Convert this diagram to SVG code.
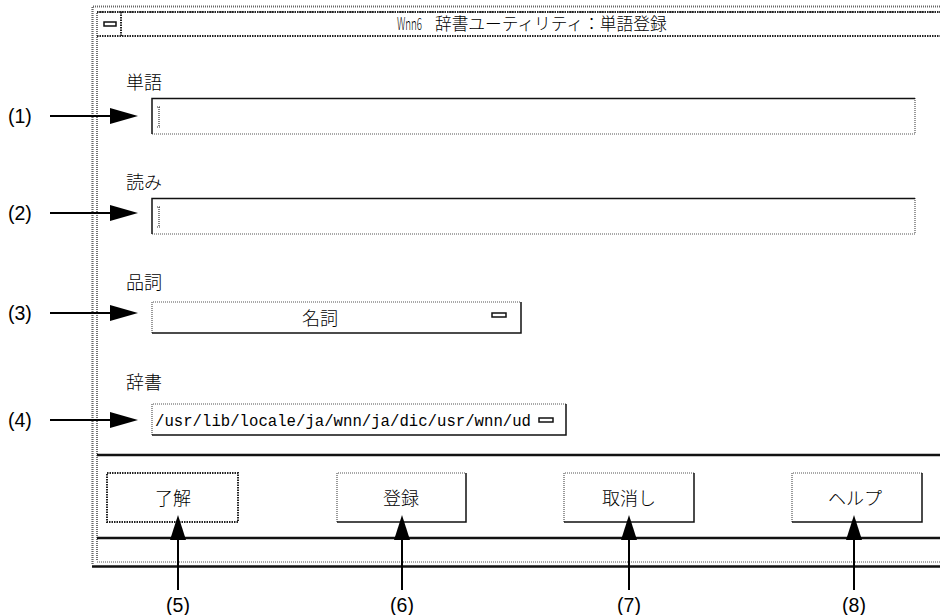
<svg xmlns="http://www.w3.org/2000/svg" width="940" height="615" viewBox="0 0 940 615">
<style>
.jp{font-family:"Noto Sans CJK JP","Noto Sans",sans-serif;font-size:18px;fill:#000;font-weight:300}
.title{font-size:16.7px}
.num{font-family:"Liberation Sans",Arial,sans-serif;font-size:19.5px;fill:#000}
.mono{font-family:"Liberation Mono","DejaVu Sans Mono",monospace;font-size:16.5px;fill:#000}
.dot{fill:none;stroke:#555;stroke-width:1.2;stroke-dasharray:1 1}
.dotd{fill:none;stroke:#222;stroke-width:2;stroke-dasharray:1.5 1}
.solid{fill:none;stroke:#111;stroke-width:1.5}
.thick{stroke:#111;stroke-width:2.5}
.cur{fill:none;stroke:#333;stroke-width:1.2;stroke-dasharray:1 1}
.conn line{stroke:#000;stroke-width:2}
.conn polygon{fill:#000}
</style>
<rect width="940" height="615" fill="#fff"/>
<g id="window">
  <path d="M940 6.5H92.5V564" fill="none" stroke="#666" stroke-width="2.2" stroke-dasharray="1 1"/>
  <path d="M940 12H97V560" fill="none" stroke="#444" stroke-width="1.5" stroke-dasharray="1 1"/>
  <line x1="92" y1="566.5" x2="940" y2="566.5" class="thick"/>
  <line x1="97" y1="562" x2="940" y2="562" class="dot"/>
</g>
<g id="titlebar">
  <line x1="97" y1="12" x2="940" y2="12" class="dotd"/>
  <line x1="97" y1="36" x2="940" y2="36" class="dotd"/>
  <line x1="121" y1="12" x2="121" y2="36" class="dotd"/>
  <rect x="104" y="22" width="12" height="4" class="solid" stroke-width="1.3"/>
  <text x="397" y="30" class="jp title"><tspan textLength="25" lengthAdjust="spacingAndGlyphs">Wnn6</tspan> <tspan x="435">辞書ユーティリティ：単語登録</tspan></text>
</g>
<g id="word">
  <text x="126" y="89" class="jp">単語</text>
  <path class="dot" d="M915 98V134H152"/>
  <path class="solid" d="M152 134V98.5H915"/>
  <path class="cur" d="M157 107h4M159 107v20M157 127h4"/>
</g>
<g id="reading">
  <text x="126" y="189" class="jp">読み</text>
  <path class="dot" d="M915 198V234H152"/>
  <path class="solid" d="M152 234V198.5H915"/>
  <path class="cur" d="M157 207h4M159 207v20M157 227h4"/>
</g>
<g id="pos">
  <text x="126" y="289" class="jp">品詞</text>
  <path class="dot" d="M152 333V302H521"/>
  <path class="solid" d="M152 333H521V302"/>
  <text x="320" y="325" class="jp" text-anchor="middle">名詞</text>
  <rect x="492" y="313" width="14" height="4" class="solid" stroke-width="1.3"/>
</g>
<g id="dict">
  <text x="126" y="389" class="jp">辞書</text>
  <path class="dot" d="M152 435V404H566"/>
  <path class="solid" d="M152 435H566V404"/>
  <text x="155" y="426" class="mono" textLength="376" lengthAdjust="spacingAndGlyphs">/usr/lib/locale/ja/wnn/ja/dic/usr/wnn/ud</text>
  <rect x="539" y="418" width="14" height="4" class="solid" stroke-width="1.3"/>
</g>
<g id="separators">
  <line x1="97" y1="455" x2="940" y2="455" class="thick"/>
  <line x1="97" y1="538" x2="940" y2="538" class="thick"/>
</g>
<g id="btn-ok">
  <rect x="107" y="473" width="131" height="49" class="dotd"/>
  <text x="173" y="505" class="jp" text-anchor="middle">了解</text>
</g>
<g id="btn-register">
  <path class="dot" d="M337 522V473H466"/>
  <path class="solid" d="M337 522H466V473"/>
  <text x="401" y="505" class="jp" text-anchor="middle">登録</text>
</g>
<g id="btn-cancel">
  <path class="dot" d="M564 522V473H694"/>
  <path class="solid" d="M564 522H694V473"/>
  <text x="629" y="505" class="jp" text-anchor="middle">取消し</text>
</g>
<g id="btn-help">
  <path class="dot" d="M792 522V473H922"/>
  <path class="solid" d="M792 522H922V473"/>
  <text x="855" y="505" class="jp" text-anchor="middle">ヘルプ</text>
</g>
<g id="connectors" class="conn">
  <line x1="50" y1="116" x2="112" y2="116"/><polygon points="110,108 138,116 110,124"/>
  <line x1="50" y1="213" x2="112" y2="213"/><polygon points="110,205 138,213 110,221"/>
  <line x1="50" y1="313" x2="112" y2="313"/><polygon points="110,305 138,313 110,321"/>
  <line x1="50" y1="420" x2="112" y2="420"/><polygon points="110,412 138,420 110,428"/>
  <line x1="178" y1="590" x2="178" y2="538"/><polygon points="170,540 178,515 186,540"/>
  <line x1="402" y1="590" x2="402" y2="538"/><polygon points="394,540 402,515 410,540"/>
  <line x1="629" y1="590" x2="629" y2="538"/><polygon points="621,540 629,515 637,540"/>
  <line x1="854" y1="590" x2="854" y2="538"/><polygon points="846,540 854,515 862,540"/>
</g>
<g id="labels">
  <text x="8" y="123" class="num">(1)</text>
  <text x="8" y="220" class="num">(2)</text>
  <text x="8" y="320" class="num">(3)</text>
  <text x="8" y="427" class="num">(4)</text>
  <text x="178" y="612" class="num" text-anchor="middle">(5)</text>
  <text x="402" y="612" class="num" text-anchor="middle">(6)</text>
  <text x="629" y="612" class="num" text-anchor="middle">(7)</text>
  <text x="854" y="612" class="num" text-anchor="middle">(8)</text>
</g>
</svg>
